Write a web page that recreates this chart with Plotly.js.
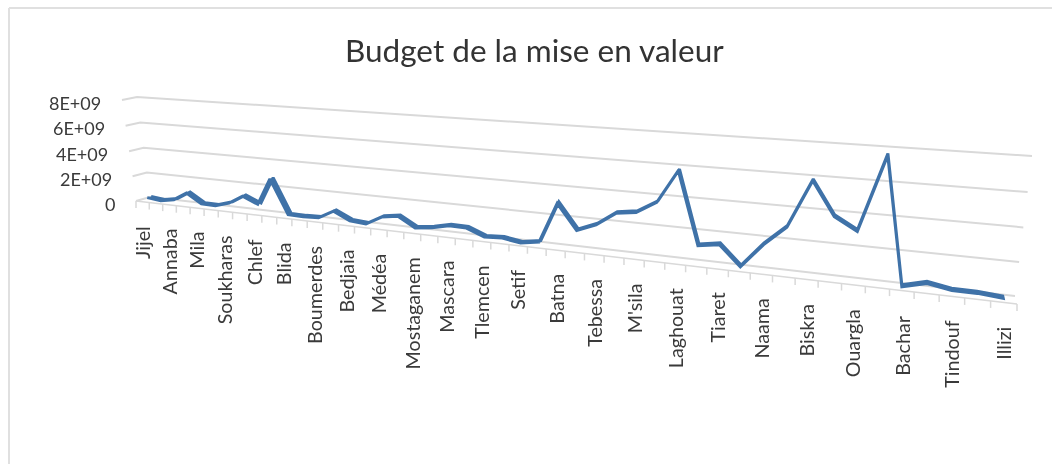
<!DOCTYPE html>
<html><head><meta charset="utf-8">
<script src="https://cdn.plot.ly/plotly-3.0.0.min.js"></script>
<style>html,body{margin:0;padding:0;background:#fff}#c{width:1052px;height:464px;filter:blur(0.5px)}</style>
</head><body><div id="c"></div>
<script>
const chartTitle = "Budget de la mise en valeur";
const labels = ["Jijel","Annaba","Mila","Soukharas","Chlef","Blida","Boumerdes","Bedjaia","Médéa","Mostaganem","Mascara","Tlemcen","Setif","Batna","Tebessa","M'sila","Laghouat","Tiaret","Naama","Biskra","Ouargla","Bachar","Tindouf","Illizi"];
const budget = [0.22,0.10,0.30,0.95,0.22,0.20,0.54,1.19,0.69,2.76,0.15,0.13,0.18,0.81,0.23,0.13,0.77,0.96,0.25,0.40,0.68,0.66,0.17,0.24,0.04,0.25,3.04,1.33,1.86,2.76,2.95,3.73,5.87,1.20,1.42,0.14,1.71,2.95,5.92,3.88,3.12,7.73,0.06,0.44,0.19,0.19,0.08].map(v => v * 1e9);
const axisValues = [0, 2e9, 4e9, 6e9, 8e9];
const axisText = ["0","2E+09","4E+09","6E+09","8E+09"];

// Excel 3-D perspective of the chart box: category slots across, value up, depth front (0) to back (1)
const nSlots = budget.length, vMax = 8e9;
function quad(p00, p10, p11, p01) {
  const dx1 = p10[0]-p11[0], dx2 = p01[0]-p11[0], sx = p00[0]-p10[0]+p11[0]-p01[0];
  const dy1 = p10[1]-p11[1], dy2 = p01[1]-p11[1], sy = p00[1]-p10[1]+p11[1]-p01[1];
  const D = dx1*dy2-dx2*dy1, g = (sx*dy2-dx2*sy)/D, h = (dx1*sy-sx*dy1)/D;
  const a = p10[0]-p00[0]+g*p10[0], b = p01[0]-p00[0]+h*p01[0];
  const d = p10[1]-p00[1]+g*p10[1], e = p01[1]-p00[1]+h*p01[1];
  return (u, w) => { const q = g*u+h*w+1; return [(a*u+b*w+p00[0])/q, (d*u+e*w+p00[1])/q]; };
}
const frontWall = quad([136,201],[1017,304],[1034,163],[122,100]);
const backWall  = quad([150,197],[1015,296],[1032,156],[137,97]);
function project(t, v, depth) {
  const f = frontWall(t/nSlots, v/vMax), k = backWall(t/nSlots, v/vMax);
  return [f[0]+(k[0]-f[0])*depth, f[1]+(k[1]-f[1])*depth];
}

const traces = [];
const gx = [], gy = [];
axisValues.forEach(v => {
  [project(0,v,0), project(0,v,1), project(nSlots,v,1)].forEach(p => { gx.push(p[0]); gy.push(p[1]); });
  gx.push(null); gy.push(null);
});
traces.push({type:"scatter",mode:"lines",x:gx,y:gy,line:{color:"#d9d9d9",width:2},hoverinfo:"skip"});
const fl = [0,nSlots].map(t => project(t,0,0));
const tx = [fl[0][0],fl[1][0],null], ty = [fl[0][1],fl[1][1],null];
for (let t = 0; t <= nSlots; t++) { const p = project(t,0,0); tx.push(p[0],p[0],null); ty.push(p[1],p[1]+7,null); }
traces.push({type:"scatter",mode:"lines",x:tx,y:ty,line:{color:"#d9d9d9",width:1.5},hoverinfo:"skip"});

// ribbon: the series has a little depth in the 3-D chart
const near = budget.map((v,i) => project(i+0.5,v,0.36));
const far  = budget.map((v,i) => project(i+0.5,v,0.64)).reverse();
const rib = near.concat(far);
traces.push({type:"scatter",mode:"lines",x:rib.map(p=>p[0]),y:rib.map(p=>p[1]),fill:"toself",fillcolor:"#3f72a8",line:{color:"#3f72a8",width:3,join:"round"},hoverinfo:"skip"});

const annotations = [];
axisValues.forEach((v,i) => {
  const p = project(0,v,0);
  annotations.push({x:p[0]-19,y:p[1]+2.5,xref:"x",yref:"y",text:axisText[i],showarrow:false,xanchor:"right",yanchor:"middle",font:{family:"Lato, Carlito, sans-serif",size:18,color:"#3a3a3a"}});
});
labels.forEach((s,i) => {
  const p = project(i*2+0.5,0,0);
  annotations.push({x:p[0],y:p[1]+22,xref:"x",yref:"y",text:s,textangle:-90,showarrow:false,xanchor:"center",yanchor:"top",font:{family:"Lato, Carlito, sans-serif",size:19.7,color:"#3a3a3a"}});
});
annotations.push({x:534,y:50,xref:"x",yref:"y",text:chartTitle,showarrow:false,xanchor:"center",yanchor:"middle",font:{family:"Lato, Carlito, sans-serif",size:31.5,color:"#333333"}});

const layout = {
  width:1052,height:464,margin:{l:0,r:0,t:0,b:0},showlegend:false,
  paper_bgcolor:"#fff",plot_bgcolor:"#fff",
  xaxis:{range:[0,1052],visible:false,fixedrange:true},
  yaxis:{range:[464,0],visible:false,fixedrange:true},
  annotations,
  shapes:[
    {type:"line",xref:"x",yref:"y",x0:9,x1:9,y0:8,y1:464,line:{color:"#e0e0e0",width:2}},
    {type:"line",xref:"x",yref:"y",x0:9,x1:1052,y0:8,y1:8,line:{color:"#e0e0e0",width:2}}
  ]
};
Plotly.newPlot("c",traces,layout,{displayModeBar:false,staticPlot:true});
</script></body></html>
